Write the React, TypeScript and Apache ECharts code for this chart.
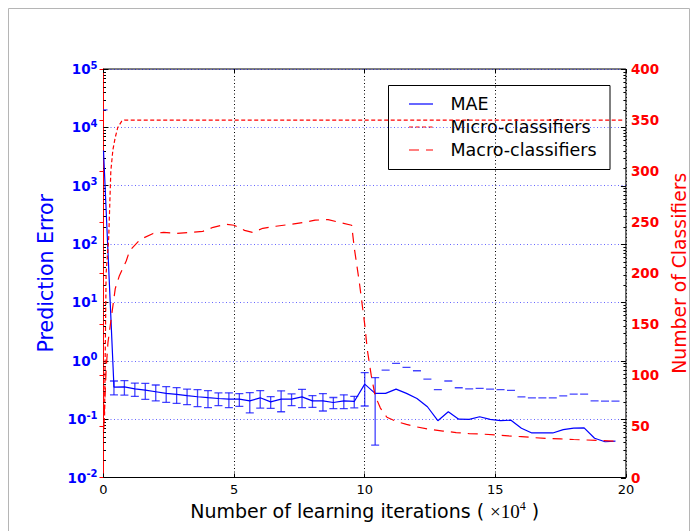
import React, { useEffect, useRef } from "react";
import * as echarts from "echarts";

// ---- data ----
const maeX = [0, 0.4, 0.8, 1.2, 1.6, 2, 2.4, 2.8, 3.2, 3.6, 4, 4.4, 4.8, 5.2, 5.6, 6, 6.4, 6.8, 7.2, 7.6, 8, 8.4, 8.8, 9.2, 9.6, 10, 10.4, 10.8, 11.2, 11.6, 12, 12.4, 12.8, 13.2, 13.6, 14, 14.4, 14.8, 15.2, 15.6, 16, 16.4, 16.8, 17.2, 17.6, 18, 18.4, 18.8, 19.2, 19.6];
const maeValues = [4000, 0.355, 0.358, 0.33, 0.314, 0.295, 0.277, 0.266, 0.252, 0.242, 0.233, 0.226, 0.22, 0.22, 0.206, 0.232, 0.198, 0.22, 0.22, 0.241, 0.206, 0.206, 0.193, 0.206, 0.201, 0.398, 0.276, 0.276, 0.327, 0.276, 0.226, 0.163, 0.094, 0.134, 0.1, 0.099, 0.11, 0.099, 0.094, 0.096, 0.07, 0.058, 0.058, 0.058, 0.066, 0.07, 0.071, 0.047, 0.041, 0.042];
const maeErrors = [16000, 0.095, 0.1, 0.085, 0.095, 0.09, 0.083, 0.08, 0.075, 0.078, 0.075, 0.055, 0.062, 0.054, 0.078, 0.077, 0.045, 0.086, 0.05, 0.083, 0.047, 0.068, 0.042, 0.055, 0.045, 0.23, 0.24, 0.414, 0.573, 0.494, 0.449, 0.322, 0.226, 0.316, 0.245, 0.231, 0.226, 0.228, 0.226, 0.214, 0.17, 0.174, 0.174, 0.174, 0.184, 0.198, 0.197, 0.159, 0.163, 0.162];

const microX = [0, 0.04, 0.1, 0.2, 0.28, 0.36, 0.45, 0.55, 0.7, 0.8, 19.9];
const microValues = [48, 60, 200, 235, 300, 321, 333, 343, 349, 350, 350];

const macroX = [0, 0.05, 0.1, 0.17, 0.36, 0.45, 0.6, 0.87, 1.0, 1.4, 1.9, 2.3, 2.8, 3.3, 3.8, 4.2, 4.7, 5.0, 5.4, 5.7, 6.1, 6.6, 7.2, 7.7, 8.1, 8.6, 9.0, 9.5, 9.6, 9.8, 10.0, 10.1, 10.25, 10.4, 10.6, 10.85, 11.2, 11.6, 12.0, 12.5, 13.0, 13.5, 14.0, 14.5, 15.0, 15.5, 16.0, 16.5, 17.0, 17.5, 18.0, 18.5, 19.0, 19.6];
const macroValues = [45, 75, 105, 132, 168, 185, 197, 212, 222, 233, 239, 240, 239, 240, 241, 245, 248, 247, 242, 240, 244, 246, 248, 250, 252, 252.5, 250, 247, 225, 190, 150, 125, 100, 80, 68, 59, 55, 52, 49.5, 47, 45.5, 44, 43, 42.5, 41.8, 40.8, 40, 39, 38.3, 37.8, 37.2, 36.7, 36.2, 35.5];

const leftMinorTicks = [
  0.02, 0.03, 0.04, 0.05, 0.06, 0.07, 0.08, 0.09,
  0.2, 0.3, 0.4, 0.5, 0.6, 0.7, 0.8, 0.9,
  2, 3, 4, 5, 6, 7, 8, 9,
  20, 30, 40, 50, 60, 70, 80, 90,
  200, 300, 400, 500, 600, 700, 800, 900,
  2000, 3000, 4000, 5000, 6000, 7000, 8000, 9000,
  20000, 30000, 40000, 50000, 60000, 70000, 80000, 90000,
];
const leftMajorTicks = [0.01, 0.1, 1, 10, 100, 1000, 10000, 100000];
const legendNames = ["MAE", "Micro-classifiers", "Macro-classifiers"];

const BLUE = "#0000ff";
const RED = "#ff0000";
const FONT = "DejaVu Sans";

function buildOption() {
  const maeData = maeX.map((x, i) => [x, maeValues[i]]);
  const errData = maeX.map((x, i) => [x, maeValues[i], maeErrors[i]]);
  const microData = microX.map((x, i) => [x, microValues[i]]);
  const macroData = macroX.map((x, i) => [x, macroValues[i]]);
  const tickData = [
    ...leftMinorTicks.map((v) => [1, v, 2.5]),
    ...leftMajorTicks.map((v) => [1, v, 5]),
  ];

  const errStyle = { stroke: "rgba(20,20,255,0.8)", lineWidth: 1.3 };

  return {
    animation: false,
    backgroundColor: "#fff",
    grid: {
      left: 103.5,
      top: 69,
      width: 527.5,
      height: 408.5,
      show: true,
      borderColor: "#000",
      borderWidth: 1,
      backgroundColor: "#fff",
    },
    xAxis: [
      {
        type: "value",
        min: 0,
        max: 20,
        interval: 5,
        position: "bottom",
        name: "{t|Number of learning iterations ( }{m|×10}{p|4}{t| )}",
        nameLocation: "middle",
        nameGap: 17,
        nameTextStyle: {
          rich: {
            t: { fontSize: 19, fontFamily: FONT, color: "#000", lineHeight: 22 },
            m: { fontSize: 19, fontFamily: "Liberation Serif", color: "#000", lineHeight: 22 },
            p: { fontSize: 12, fontFamily: "Liberation Serif", color: "#000", lineHeight: 12, verticalAlign: "top" },
          },
        },
        axisLine: { show: true, lineStyle: { color: "#000", width: 1 } },
        axisTick: { show: true, inside: true, length: 4, lineStyle: { color: "#000" } },
        axisLabel: { show: true, margin: 5, color: "#000", fontSize: 13, fontFamily: FONT },
        splitLine: { show: true, lineStyle: { color: "#000", type: [1, 2.5], width: 1 } },
      },
      {
        type: "value",
        min: 0,
        max: 20,
        interval: 5,
        position: "top",
        axisLine: { show: false },
        axisTick: { show: true, inside: true, length: 4, lineStyle: { color: "#000" } },
        axisLabel: { show: false },
        splitLine: { show: false },
      },
    ],
    yAxis: [
      {
        type: "log",
        logBase: 10,
        min: 0.01,
        max: 100000,
        position: "left",
        name: "Prediction Error",
        nameLocation: "middle",
        nameRotate: 90,
        nameGap: 30,
        nameTextStyle: { color: BLUE, fontSize: 20.5, fontFamily: FONT },
        axisLine: { show: true, lineStyle: { color: "#000", width: 1 } },
        axisTick: { show: true, inside: true, length: 5, lineStyle: { color: "#000" } },
        axisLabel: {
          show: true,
          margin: 6,
          showMinLabel: true,
          showMaxLabel: true,
          formatter: (v: number) => {
            const e = Math.round(Math.log10(v));
            return `{b|10}{s|${e}}`;
          },
          rich: {
            b: { fontSize: 13.5, fontWeight: "bold", color: BLUE, fontFamily: FONT, lineHeight: 18 },
            s: { fontSize: 10, fontWeight: "bold", color: BLUE, fontFamily: FONT, lineHeight: 8, verticalAlign: "top" },
          },
        },
        splitLine: { show: true, lineStyle: { color: "rgba(0,0,255,0.6)", type: [1, 2.5], width: 1 } },
      },
      {
        type: "value",
        min: 0,
        max: 400,
        interval: 50,
        position: "right",
        name: "Number of Classifiers",
        nameLocation: "middle",
        nameRotate: 90,
        nameGap: 35,
        nameTextStyle: { color: RED, fontSize: 18.8, fontFamily: FONT },
        axisLine: { show: true, lineStyle: { color: RED, width: 1 } },
        axisTick: { show: true, inside: true, length: 4, lineStyle: { color: RED } },
        axisLabel: { show: true, margin: 5, color: RED, fontSize: 13.5, fontWeight: "bold", fontFamily: FONT },
        splitLine: { show: false },
      },
    ],
    series: [
      {
        type: "custom",
        name: "minor-ticks",
        xAxisIndex: 0,
        yAxisIndex: 0,
        silent: true,
        z: 1,
        encode: { x: 0, y: 1 },
        data: tickData,
        renderItem: (params: any, api: any) => {
          const cs = params.coordSys;
          const p = api.coord([0, api.value(1)]);
          const len = api.value(2);
          const y = Math.round(p[1]) + 0.5;
          const style = { stroke: "#000", lineWidth: 1 };
          const children: any[] = [
            { type: "line", shape: { x1: cs.x + cs.width, y1: y, x2: cs.x + cs.width - len, y2: y }, style },
          ];
          if (len < 4) {
            children.push({ type: "line", shape: { x1: cs.x, y1: y, x2: cs.x + len, y2: y }, style });
          }
          return { type: "group", children };
        },
      },
      {
        type: "custom",
        name: "MAE error",
        xAxisIndex: 0,
        yAxisIndex: 0,
        silent: true,
        clip: true,
        z: 2,
        encode: { x: 0, y: 1 },
        data: errData,
        renderItem: (params: any, api: any) => {
          const x = api.value(0);
          const v = api.value(1);
          const e = api.value(2);
          const hi = v + e;
          const lo = v - e;
          const cw = 4;
          const pHi = api.coord([x, hi]);
          const children: any[] = [
            { type: "line", shape: { x1: pHi[0] - cw, y1: pHi[1], x2: pHi[0] + cw, y2: pHi[1] }, style: errStyle },
          ];
          if (lo > 0) {
            const pLo = api.coord([x, lo]);
            children.push({ type: "line", shape: { x1: pHi[0], y1: pHi[1], x2: pLo[0], y2: pLo[1] }, style: errStyle });
            children.push({ type: "line", shape: { x1: pLo[0] - cw, y1: pLo[1], x2: pLo[0] + cw, y2: pLo[1] }, style: errStyle });
          }
          return { type: "group", children };
        },
      },
      {
        type: "line",
        name: legendNames[0],
        xAxisIndex: 0,
        yAxisIndex: 0,
        data: maeData,
        symbol: "none",
        silent: true,
        z: 3,
        lineStyle: { color: BLUE, width: 1.2 },
      },
      {
        type: "line",
        name: legendNames[1],
        xAxisIndex: 0,
        yAxisIndex: 1,
        data: microData,
        symbol: "none",
        silent: true,
        z: 4,
        lineStyle: { color: RED, width: 1.2, type: [4, 2.5] },
      },
      {
        type: "line",
        name: legendNames[2],
        xAxisIndex: 0,
        yAxisIndex: 1,
        data: macroData,
        symbol: "none",
        silent: true,
        z: 4,
        lineStyle: { color: RED, width: 1.2, type: [10, 7] },
      },
    ],
    graphic: [
      {
        type: "rect",
        silent: true,
        z: 0,
        shape: { x: 8.5, y: 8.5, width: 681, height: 600 },
        style: { fill: "none", stroke: "#b5b5b5", lineWidth: 1 },
      },
      {
        type: "group",
        z: 100,
        silent: true,
        children: [
          {
            type: "rect",
            shape: { x: 388.5, y: 85.5, width: 221.5, height: 84 },
            style: { fill: "#fff", stroke: "#000", lineWidth: 1 },
          },
          { type: "line", shape: { x1: 409, y1: 104, x2: 433, y2: 104 }, style: { stroke: BLUE, lineWidth: 1.2 } },
          { type: "line", shape: { x1: 409, y1: 127, x2: 433, y2: 127 }, style: { stroke: RED, lineWidth: 1.2, lineDash: [4, 2.5] } },
          { type: "line", shape: { x1: 409, y1: 150, x2: 433, y2: 150 }, style: { stroke: RED, lineWidth: 1.2, lineDash: [10, 7] } },
          { type: "text", x: 450.5, y: 104, style: { text: legendNames[0], fontSize: 17.5, fontFamily: FONT, fill: "#000", verticalAlign: "middle" } },
          { type: "text", x: 450.5, y: 127, style: { text: legendNames[1], fontSize: 17.5, fontFamily: FONT, fill: "#000", verticalAlign: "middle" } },
          { type: "text", x: 450.5, y: 150, style: { text: legendNames[2], fontSize: 17.5, fontFamily: FONT, fill: "#000", verticalAlign: "middle" } },
        ],
      },
    ],
  };
}

export default function App() {
  const ref = useRef<HTMLDivElement>(null);
  useEffect(() => {
    if (!ref.current) return;
    const chart = echarts.init(ref.current, null, { renderer: "svg" });
    chart.setOption(buildOption() as any);
    return () => chart.dispose();
  }, []);
  return (
    <div
      ref={ref}
      style={{ position: "fixed", left: 0, top: 0, width: 697, height: 531, background: "#fff" }}
    />
  );
}
